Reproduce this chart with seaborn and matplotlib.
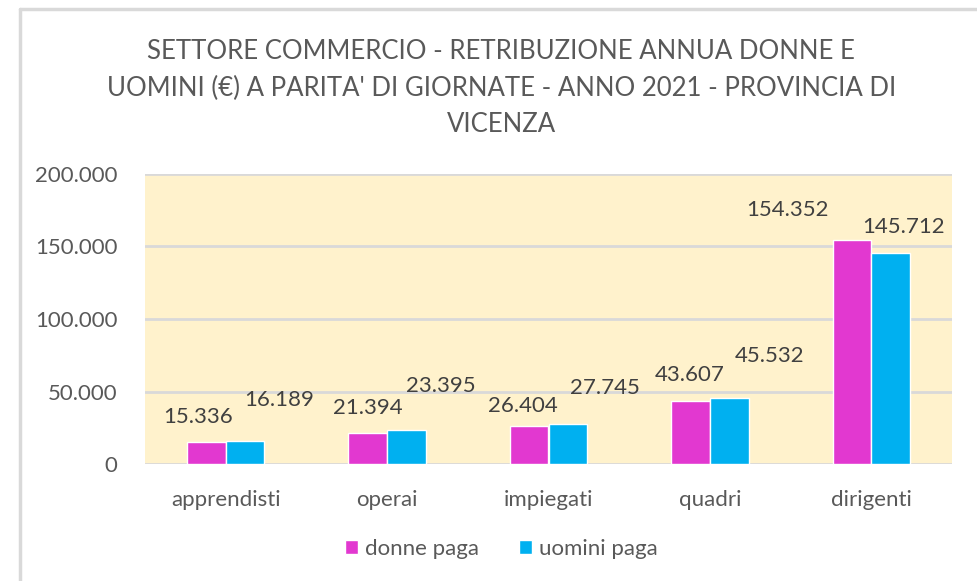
import matplotlib
matplotlib.use("Agg")
import matplotlib.pyplot as plt
import matplotlib.ticker as mticker
import seaborn as sns
import pandas as pd

# data
categories = ["apprendisti", "operai", "impiegati", "quadri", "dirigenti"]
donne = [15336, 21394, 26404, 43607, 154352]
uomini = [16189, 23395, 27745, 45532, 145712]
series = ["donne paga", "uomini paga"]
title = ("SETTORE COMMERCIO - RETRIBUZIONE ANNUA DONNE E\n"
         "UOMINI (€) A PARITA' DI GIORNATE - ANNO 2021 - PROVINCIA DI\n"
         "VICENZA")

# label offsets (pixels, to label centre) as placed in the original sheet
off_donne = [(-8, 25), (0, 25), (-6, 20), (-1, 26), (-64, 30)]
off_uomini = [(34, 41), (34, 44), (37, 36), (40, 42), (13, 26)]

colors = ["#E238D0", "#00B0F0"]
grey = "#595959"

df = pd.DataFrame({
    "categoria": categories * 2,
    "serie": [series[0]] * len(categories) + [series[1]] * len(categories),
    "valore": donne + uomini,
})

sns.set_theme(style="white")
plt.rcParams["font.family"] = ["Lato", "DejaVu Sans"]

fig = plt.figure(figsize=(9.77, 5.81), dpi=100)
ax = fig.add_axes([145 / 977, 1 - 464 / 581, (952 - 145) / 977, (464 - 174) / 581])

sns.barplot(data=df, x="categoria", y="valore", hue="serie", palette=colors,
            width=0.48, gap=0, saturation=1, ax=ax, legend=True, errorbar=None)

ax.set_facecolor("#FFF2CC")
ax.set_ylim(0, 200000)
ax.set_xlim(-0.5, len(categories) - 0.5)
ax.yaxis.set_major_locator(mticker.MultipleLocator(50000))
ax.yaxis.set_major_formatter(mticker.FuncFormatter(lambda v, p: f"{int(v):,}".replace(",", ".")))
ax.grid(axis="y", color="#D9D9D9", linewidth=2)
ax.set_axisbelow(True)
for s in ax.spines.values():
    s.set_visible(False)
ax.tick_params(axis="both", length=0, labelcolor=grey)
ax.tick_params(axis="y", pad=20, labelsize=16)
ax.tick_params(axis="x", pad=19, labelsize=16)
ax.set_xlabel("")
ax.set_ylabel("")

for cont, offs in zip(ax.containers, [off_donne, off_uomini]):
    for bar, (dx, dy) in zip(cont, offs):
        v = bar.get_height()
        ax.annotate(f"{int(v):,}".replace(",", "."),
                    (bar.get_x() + bar.get_width() / 2, v),
                    xytext=(dx, dy), textcoords="offset pixels",
                    ha="center", va="center", fontsize=16, color="#404040")

ax.legend(loc="center", bbox_to_anchor=(0.513, 1 - 549 / 581), bbox_transform=fig.transFigure,
          ncol=2, frameon=False, fontsize=16, handlelength=0.6, handleheight=0.6,
          handletextpad=0.3, columnspacing=1.8, labelcolor=grey)

fig.text(0.513, 1 - 88 / 581, title, ha="center", va="center", fontsize=18.5,
         color=grey, linespacing=1.55)

# outer chart border (cropped at right and bottom)
fig.add_artist(plt.Line2D([20 / 977, 20 / 977], [0, 1 - 9 / 581], transform=fig.transFigure,
                          color="#D9D9D9", linewidth=2.5))
fig.add_artist(plt.Line2D([20 / 977, 1], [1 - 9 / 581, 1 - 9 / 581], transform=fig.transFigure,
                          color="#D9D9D9", linewidth=2.5))

fig.savefig("out.png", dpi=100)
